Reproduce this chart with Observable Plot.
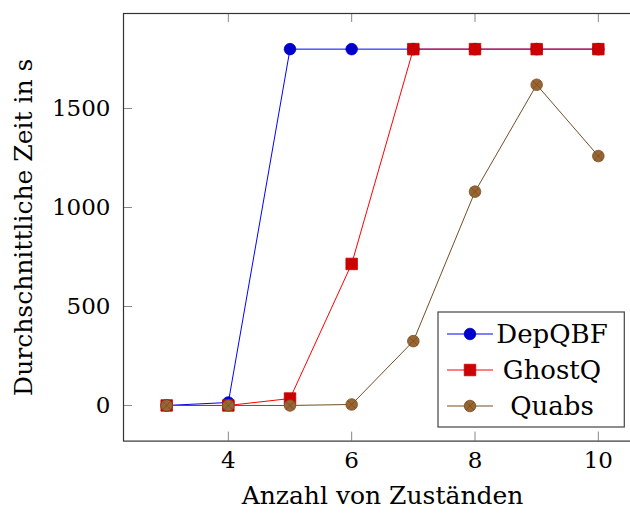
<!DOCTYPE html>
<html><head><meta charset="utf-8">
<script src="https://cdn.jsdelivr.net/npm/d3@7"></script>
<script src="https://cdn.jsdelivr.net/npm/@observablehq/plot@0.6"></script>
<style>
html,body{margin:0;padding:0;background:#fff;overflow:hidden;width:630px;height:514px}
#chart{position:relative;width:630px;height:514px;overflow:hidden}
#chart svg{max-width:none !important}
#chart text{font-family:"DejaVu Serif" !important}
</style></head><body><div id="chart"></div>
<script>
// ---- data ----
const states = [3, 4, 5, 6, 7, 8, 9, 10];
const depqbf = [0, 15, 1800, 1800, 1800, 1800, 1800, 1800];
const ghostq = [0, 0, 35, 715, 1800, 1800, 1800, 1800];
const quabs  = [0, 0, 0, 5, 325, 1080, 1620, 1260];
const seriesNames = ["DepQBF", "GhostQ", "Quabs"];
const xTicks = [4, 6, 8, 10];
const yTicks = [0, 500, 1000, 1500];
const xLabel = "Anzahl von Zuständen";
const yLabel = "Durchschnittliche Zeit in s";

// ---- styles ----
const styles = {
  DepQBF: {line: "#0000ff", fill: "#0000cc", stroke: "#0000cc", symbol: "circle", r: 5.8},
  GhostQ: {line: "#ff0000", fill: "#cc0000", stroke: "#cc0000", symbol: "square", r: 6.5},
  Quabs:  {line: "#734d26", fill: "#996633", stroke: "#734d26", symbol: "circle", r: 5.8, cross: true}
};
const valuesBy = {DepQBF: depqbf, GhostQ: ghostq, Quabs: quabs};
const rows = name => states.map((x, i) => ({x, y: valuesBy[name][i], s: name}));

const W = 642, H = 514, mL = 123, mR = 1, mT = 13, mB = 73.4;
const fw = W - mL - mR, fh = H - mT - mB;
const tickLen = 9;
const font = "DejaVu Serif";

const marks = [];
for (const name of seriesNames) {
  const st = styles[name];
  const data = rows(name);
  marks.push(Plot.line(data, {x: "x", y: "y", stroke: st.line, strokeWidth: 1}));
  marks.push(Plot.dot(data, {x: "x", y: "y", symbol: st.symbol, r: st.r, fill: st.fill, stroke: st.stroke, strokeWidth: 0.8}));
  if (st.cross) marks.push(Plot.dot(data, {x: "x", y: "y", symbol: "times", r: 3.8, stroke: st.line, strokeWidth: 0.8}));
}

const chart = Plot.plot({
  width: W, height: H,
  marginLeft: mL, marginRight: mR, marginTop: mT, marginBottom: mB,
  style: {fontFamily: font, fontSize: "23px", background: "white", color: "black", maxWidth: "none"},
  x: {domain: [2.3, 10.7]},
  y: {domain: [-180, 1980]},
  marks: [
    Plot.tickX(xTicks, {x: d => d, insetTop: fh - tickLen, stroke: "#888", strokeWidth: 1}),
    Plot.tickX(xTicks, {x: d => d, insetBottom: fh - tickLen, stroke: "#888", strokeWidth: 1}),
    Plot.tickY(yTicks, {y: d => d, insetRight: fw - tickLen, stroke: "#888", strokeWidth: 1}),
    Plot.tickY(yTicks, {y: d => d, insetLeft: fw - tickLen, stroke: "#888", strokeWidth: 1}),
    Plot.axisX(xTicks, {tickSize: 0, tickPadding: 11, label: null, fontSize: 23, tickFormat: d3.format("d")}),
    Plot.axisY(yTicks, {tickSize: 0, tickPadding: 13, label: null, fontSize: 23, tickFormat: d3.format("d")}),
    ...marks,
    Plot.frame({stroke: "#333", strokeWidth: 1.2}),
    Plot.text([xLabel], {text: d => d, frameAnchor: "bottom", textAnchor: "middle", lineAnchor: "bottom", dy: 62.5, fontSize: 25}),
    Plot.text([yLabel], {text: d => d, frameAnchor: "left", textAnchor: "middle", lineAnchor: "bottom", rotate: -90, dx: -91.3, fontSize: 25})
  ]
});
chart.style.maxWidth = "none";
chart.setAttribute("width", W);
document.getElementById("chart").appendChild(chart);

const svg = d3.select(chart);

// ---- legend ----
const lg = svg.append("g");
lg.append("rect").attr("x", 438).attr("y", 312).attr("width", 186.3).attr("height", 115)
  .attr("fill", "white").attr("stroke", "#444").attr("stroke-width", 1.2);
const rowY = [334, 370, 406];
seriesNames.forEach((name, i) => {
  const st = styles[name];
  const y = rowY[i];
  lg.append("line").attr("x1", 447).attr("x2", 493).attr("y1", y).attr("y2", y)
    .attr("stroke", st.line).attr("stroke-width", 1);
  const sym = st.symbol === "square" ? d3.symbolSquare : d3.symbolCircle;
  lg.append("path").attr("transform", `translate(470,${y})`)
    .attr("d", d3.symbol(sym, Math.PI * st.r * st.r)())
    .attr("fill", st.fill).attr("stroke", st.stroke).attr("stroke-width", 0.8);
  if (st.cross) {
    lg.append("path").attr("transform", `translate(470,${y})`)
      .attr("d", d3.symbol(d3.symbolTimes, Math.PI * 3.8 * 3.8)())
      .attr("fill", "none").attr("stroke", st.line).attr("stroke-width", 0.8);
  }
  lg.append("text").attr("x", 552).attr("y", y + 9).attr("text-anchor", "middle")
    .attr("font-size", 26).attr("fill", "black").text(name);
});
</script></body></html>
